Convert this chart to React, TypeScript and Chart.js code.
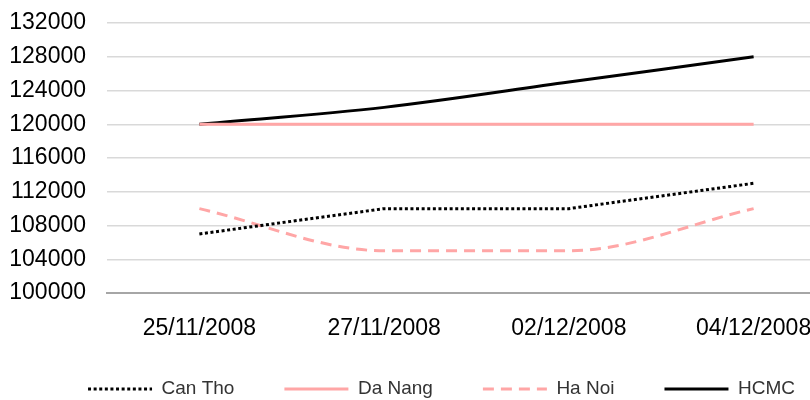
import React, { useEffect, useRef } from "react";
import { Chart, registerables } from "chart.js";

Chart.register(...registerables);

const categories = ["25/11/2008", "27/11/2008", "02/12/2008", "04/12/2008"];
const canTho = [107000, 110000, 110000, 113000];
const daNang = [120000, 120000, 120000, 120000];
const haNoi = [110000, 105000, 105000, 110000];
const hcmc = [120000, 122000, 125000, 128000];
const yMin = 100000;
const yMax = 132000;
const yStep = 4000;

const W = 848;
const H = 422;
const LEG_PAD = 50;
const LEG_FONT = 19;
const LEG_DX = 18.5;
const LEG_DY = -13.5;

const legendShift = {
  id: "legendShift",
  afterLayout(chart: any) {
    const l = chart.legend;
    if (!l) return;
    l.left += LEG_DX;
    l.right += LEG_DX;
    l.top += LEG_DY;
    l.bottom += LEG_DY;
  },
};

export default function App() {
  const ref = useRef<HTMLCanvasElement | null>(null);
  useEffect(() => {
    if (!ref.current) return;
    const chart = new Chart(ref.current, {
      type: "line",
      plugins: [legendShift],
      data: {
        labels: categories,
        datasets: [
          {
            label: "Can Tho",
            data: canTho,
            borderColor: "#000000",
            backgroundColor: "#000000",
            borderWidth: 3,
            borderDash: [3, 2.6],
            pointRadius: 0,
            tension: 0,
          },
          {
            label: "Da Nang",
            data: daNang,
            borderColor: "#ffa6a6",
            backgroundColor: "#ffa6a6",
            borderWidth: 3,
            pointRadius: 0,
            tension: 0,
          },
          {
            label: "Ha Noi",
            data: haNoi,
            borderColor: "#ffa6a6",
            backgroundColor: "#ffa6a6",
            borderWidth: 3,
            borderDash: [11, 7],
            pointRadius: 0,
            cubicInterpolationMode: "monotone",
          },
          {
            label: "HCMC",
            data: hcmc,
            borderColor: "#000000",
            backgroundColor: "#000000",
            borderWidth: 3,
            pointRadius: 0,
            cubicInterpolationMode: "monotone",
          },
        ],
      },
      options: {
        animation: false,
        responsive: false,
        layout: { padding: { top: 23, left: 0, right: 2, bottom: 0 } },
        plugins: {
          tooltip: { enabled: false },
          legend: {
            position: "bottom",
            labels: {
              usePointStyle: true,
              pointStyle: "line",
              pointStyleWidth: 64,
              padding: LEG_PAD,
              color: "#333333",
              font: { family: "'Liberation Sans', Arial, sans-serif", size: LEG_FONT },
              generateLabels: (ch: any) =>
                ch.data.datasets.map((d: any, i: number) => ({
                  text: d.label,
                  strokeStyle: d.borderColor,
                  fillStyle: d.borderColor,
                  lineWidth: d.borderWidth,
                  lineDash: d.borderDash || [],
                  pointStyle: "line",
                  hidden: false,
                  datasetIndex: i,
                  fontColor: "#333333",
                })),
            },
          },
        },
        scales: {
          x: {
            type: "category",
            offset: true,
            grid: { display: false, drawTicks: false },
            border: { display: true, color: "#a6a6a6", width: 2 },
            ticks: {
              color: "#000000",
              padding: 22,
              maxRotation: 0,
              autoSkip: false,
              font: { family: "'Liberation Sans', Arial, sans-serif", size: 23 },
            },
            afterFit: (s: any) => {
              s.height = 50;
            },
          },
          y: {
            min: yMin,
            max: yMax,
            grid: { color: "#d9d9d9", lineWidth: 1.5, drawTicks: false },
            border: { display: false },
            ticks: {
              stepSize: yStep,
              padding: 21,
              color: "#000000",
              font: { family: "'Liberation Sans', Arial, sans-serif", size: 23 },
              callback: (v: any) => String(v),
            },
            afterFit: (s: any) => {
              s.width = 107;
              s.paddingTop = 0;
              s.paddingBottom = 0;
            },
          },
        },
      },
    });
    return () => chart.destroy();
  }, []);
  return (
    <div style={{ position: "absolute", left: 0, top: 0, width: 810, height: 400, overflow: "hidden", background: "#fff" }}>
      <canvas ref={ref} width={W} height={H} style={{ width: W, height: H, display: "block" }} />
    </div>
  );
}
